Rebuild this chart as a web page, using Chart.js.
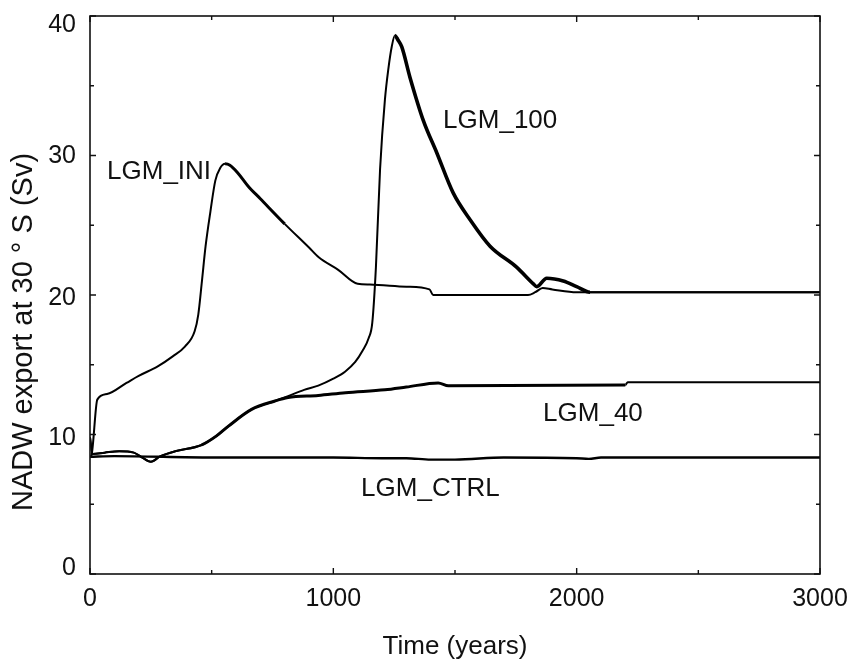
<!DOCTYPE html>
<html lang="en">
<head>
    <meta charset="UTF-8">
    <title>NADW export at 30°S</title>
    <script src="https://cdn.jsdelivr.net/npm/chart.js"></script>
    <style>
        body {
            margin: 0;
            background: #ffffff;
        }
        canvas {
            display: block;
        }
    </style>
</head>
<body>
    <canvas id="nadwChart" width="851" height="666"></canvas>

    <script>
        // values (years, Sv)
        const iniYears = [0, 6, 30, 70, 150, 200, 280, 340, 390, 430, 445, 460, 475, 495, 515, 535, 555, 575, 610, 650, 700, 800, 900, 940, 1020, 1100, 1150, 1300, 1395, 1410, 1600, 1800, 1830, 1860, 1900, 2000, 3000];
        const iniSv = [8.4, 8.5, 12.5, 12.9, 13.7, 14.2, 14.9, 15.6, 16.3, 17.4, 18.6, 21.0, 23.5, 26.0, 28.2, 29.1, 29.4, 29.3, 28.7, 27.8, 26.9, 25.1, 23.4, 22.7, 21.8, 20.8, 20.75, 20.6, 20.4, 20.0, 20.0, 20.0, 20.2, 20.5, 20.4, 20.2, 20.2];

        const lgm100Years = [0, 10, 60, 120, 180, 210, 250, 290, 350, 459, 520, 569, 664, 760, 814, 880, 938, 1000, 1048, 1090, 1120, 1145, 1160, 1175, 1192, 1212, 1226, 1240, 1253, 1265, 1281, 1315, 1370, 1425, 1493, 1562, 1644, 1753, 1822, 1836, 1877, 1945, 2000, 2055, 3000];
        const lgm100Sv = [9.8, 8.6, 8.7, 8.8, 8.7, 8.4, 8.05, 8.45, 8.8, 9.25, 9.9, 10.6, 11.8, 12.4, 12.75, 13.2, 13.5, 14.0, 14.5, 15.2, 16.0, 16.9, 18.0, 22.0, 29.0, 34.0, 36.2, 37.8, 38.6, 38.3, 37.8, 35.6, 32.5, 30.2, 27.3, 25.4, 23.5, 22.0, 20.8, 20.6, 21.2, 21.0, 20.6, 20.2, 20.2];

        const lgm40Years = [0, 10, 60, 120, 180, 210, 250, 290, 350, 459, 520, 569, 664, 760, 814, 938, 1050, 1212, 1300, 1431, 1473, 2200, 2210, 3000];
        const lgm40Sv = [9.8, 8.6, 8.7, 8.8, 8.7, 8.4, 8.05, 8.45, 8.8, 9.25, 9.9, 10.6, 11.8, 12.4, 12.65, 12.8, 13.0, 13.2, 13.4, 13.7, 13.5, 13.55, 13.75, 13.75];

        const ctrlYears = [0, 100, 500, 1000, 1200, 1300, 1400, 1500, 1700, 2000, 2050, 2100, 3000];
        const ctrlSv = [8.4, 8.45, 8.35, 8.35, 8.3, 8.3, 8.2, 8.2, 8.35, 8.3, 8.25, 8.35, 8.35];

        const xTicks = [0, 1000, 2000, 3000];
        const yTicks = [0, 10, 20, 30, 40];

        const runNames = ['LGM_INI', 'LGM_100', 'LGM_40', 'LGM_CTRL'];
        // where each run name sits, in data units
        const nameYears = [70, 1451, 1862, 1114];
        const nameSv = [28.8, 32.5, 11.5, 6.1];

        const FONT = "'Liberation Sans', Arial, Helvetica, sans-serif";

        // the end labels of the y axis are nudged inside the frame (px, + is down)
        const yLabelNudge = { 0: -6, 10: 4, 20: 3, 30: 1, 40: 9 };

        function pts(xs, ys) {
            return xs.map((x, i) => ({ x: x, y: ys[i] }));
        }

        // thicker stroke where the model output is noisy
        function noisyWidth(from, to, thick, thin) {
            return ctx => {
                const x = ctx.p0.parsed.x;
                return (x >= from && x < to) ? thick : thin;
            };
        }

        function yLabel(v) {
            const n = yLabelNudge[v] || 0;
            if (n > 0) return ['', String(v)];
            if (n < 0) return [String(v), ''];
            return String(v);
        }

        function yLabelFont(ctx) {
            const n = ctx.tick ? (yLabelNudge[ctx.tick.value] || 0) : 0;
            const f = { size: 25, family: FONT };
            if (n !== 0) f.lineHeight = (Math.abs(n) * 2) + 'px';
            return f;
        }

        const frameAndLabels = {
            id: 'frameAndLabels',
            afterDraw(chart) {
                const ctx = chart.ctx;
                const a = chart.chartArea;
                const xs = chart.scales.x;
                const ys = chart.scales.y;
                ctx.save();
                ctx.strokeStyle = '#111';
                ctx.lineWidth = 1.6;
                ctx.strokeRect(a.left, a.top, a.right - a.left, a.bottom - a.top);

                ctx.lineWidth = 1.4;
                ctx.beginPath();
                for (let v = 0; v <= 3000; v += 500) {
                    const len = v % 1000 === 0 ? 6 : 4;
                    const px = xs.getPixelForValue(v);
                    ctx.moveTo(px, a.bottom); ctx.lineTo(px, a.bottom - len);
                    ctx.moveTo(px, a.top); ctx.lineTo(px, a.top + len);
                }
                for (let v = 0; v <= 40; v += 5) {
                    const len = v % 10 === 0 ? 6 : 4;
                    const py = ys.getPixelForValue(v);
                    ctx.moveTo(a.left, py); ctx.lineTo(a.left + len, py);
                    ctx.moveTo(a.right, py); ctx.lineTo(a.right - len, py);
                }
                ctx.stroke();

                ctx.fillStyle = '#111';
                ctx.font = '26px ' + FONT;
                ctx.textAlign = 'left';
                ctx.textBaseline = 'middle';
                runNames.forEach((name, i) => {
                    ctx.fillText(name, xs.getPixelForValue(nameYears[i]), ys.getPixelForValue(nameSv[i]));
                });

                // y axis title
                ctx.translate(24, 332);
                ctx.rotate(-Math.PI / 2);
                ctx.textAlign = 'center';
                ctx.font = '29px ' + FONT;
                ctx.fillText('NADW export at 30 ° S (Sv)', 0, 0);
                ctx.restore();
            }
        };

        const lineStyle = {
            borderColor: '#000',
            pointRadius: 0,
            fill: false,
            cubicInterpolationMode: 'monotone'
        };

        new Chart(document.getElementById('nadwChart'), {
            type: 'line',
            data: {
                datasets: [
                    Object.assign({ label: 'LGM_CTRL', data: pts(ctrlYears, ctrlSv), borderWidth: 2.4 }, lineStyle),
                    Object.assign({ label: 'LGM_40', data: pts(lgm40Years, lgm40Sv), borderWidth: 2,
                        segment: { borderWidth: noisyWidth(450, 1480, 3, 2) } }, lineStyle),
                    Object.assign({ label: 'LGM_INI', data: pts(iniYears, iniSv), borderWidth: 2,
                        segment: { borderWidth: noisyWidth(540, 800, 3, 2) } }, lineStyle),
                    Object.assign({ label: 'LGM_100', data: pts(lgm100Years, lgm100Sv), borderWidth: 2,
                        segment: { borderWidth: noisyWidth(1250, 2055, 3.6, 2) } }, lineStyle)
                ]
            },
            options: {
                responsive: false,
                animation: false,
                layout: { padding: { top: 16, right: 31, left: 0, bottom: 0 } },
                plugins: {
                    legend: { display: false },
                    tooltip: { enabled: false }
                },
                scales: {
                    x: {
                        type: 'linear',
                        min: 0,
                        max: 3000,
                        afterBuildTicks: s => { s.ticks = xTicks.map(v => ({ value: v })); },
                        afterFit: s => {
                            s.height = 92;
                            s.paddingLeft = 0;
                            s.paddingRight = 0;
                        },
                        grid: { display: false, drawTicks: false },
                        border: { display: false },
                        ticks: {
                            color: '#111',
                            padding: 10,
                            maxRotation: 0,
                            callback: v => String(v),
                            font: { size: 25, family: FONT }
                        },
                        title: {
                            display: true,
                            text: 'Time (years)',
                            color: '#111',
                            padding: { top: 0, bottom: 4 },
                            font: { size: 26, family: FONT }
                        }
                    },
                    y: {
                        min: 0,
                        max: 40,
                        afterBuildTicks: s => { s.ticks = yTicks.map(v => ({ value: v })); },
                        afterFit: s => {
                            s.width = 90;
                            s.paddingTop = 0;
                            s.paddingBottom = 0;
                        },
                        grid: { display: false, drawTicks: false },
                        border: { display: false },
                        ticks: { color: '#111', padding: 14, callback: yLabel, font: yLabelFont }
                    }
                }
            },
            plugins: [frameAndLabels]
        });
    </script>
</body>
</html>
